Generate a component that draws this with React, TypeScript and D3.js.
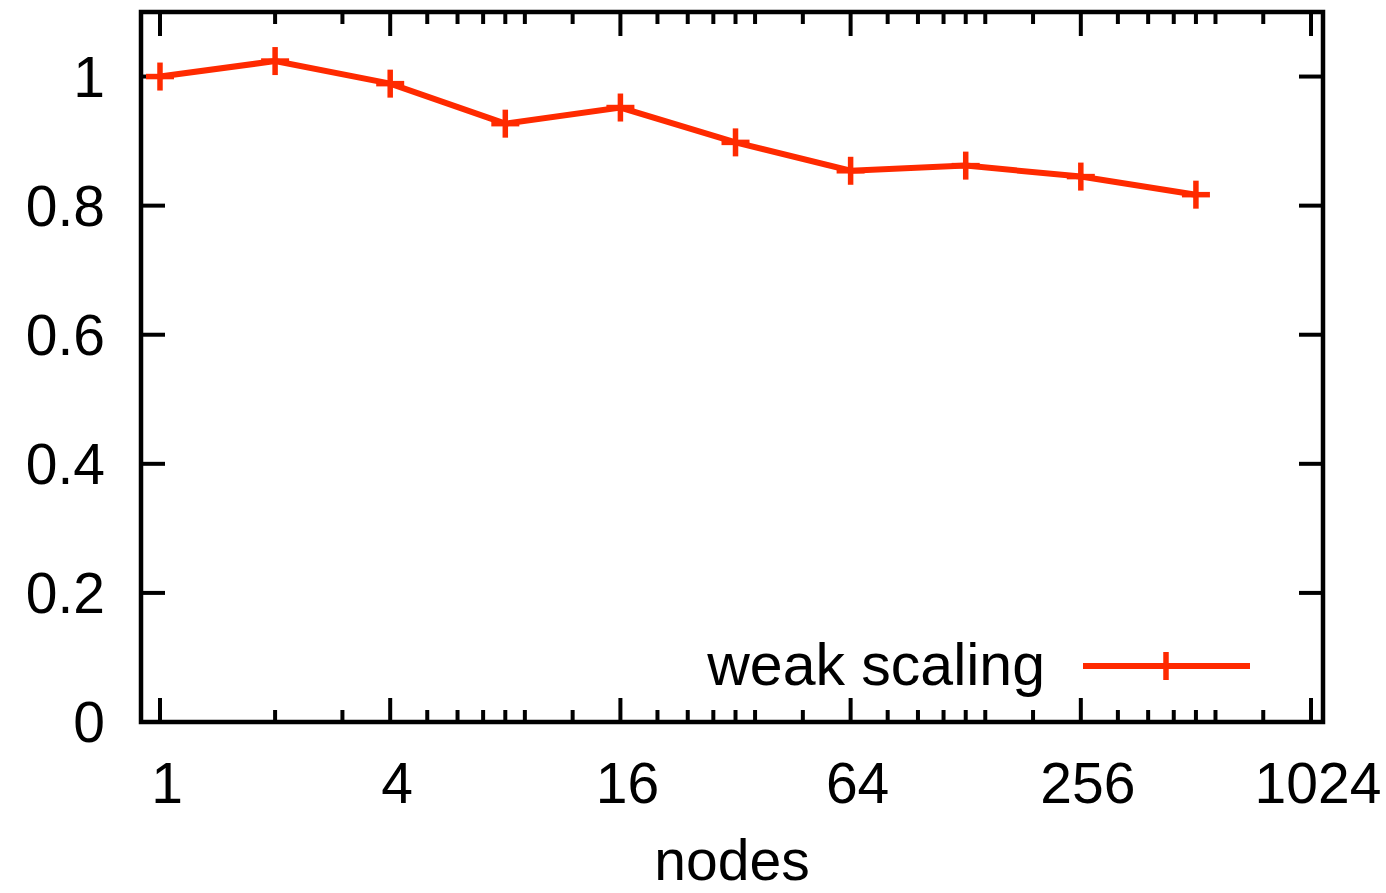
import React from "react";
import * as d3 from "d3";

const nodes = [1, 2, 4, 8, 16, 32, 64, 128, 256, 512];
const efficiency = [1.0, 1.024, 0.989, 0.927, 0.952, 0.898, 0.854, 0.862, 0.845, 0.817];
const xMajorTicks = [1, 4, 16, 64, 256, 1024];
const xMinorTicks = [2, 3, 5, 6, 7, 8, 9, 12, 20, 24, 28, 32, 36, 48, 80, 96, 112, 128, 144, 192, 320, 384, 448, 512, 576, 768];
const yTicks = [0, 0.2, 0.4, 0.6, 0.8, 1];
const yTickLabels = ["0", "0.2", "0.4", "0.6", "0.8", "1"];
const seriesName = "weak scaling";
const xLabel = "nodes";

const W = 1386;
const H = 893;
const left = 141;
const right = 1323;
const top = 12;
const bottom = 722;
const font = "'Liberation Sans', Arial, Helvetica, sans-serif";
const red = "#ff2a00";

export default function App() {
  const x = d3
    .scaleLog()
    .base(2)
    .domain([Math.pow(2, -0.165), Math.pow(2, 10.104)])
    .range([left, right]);
  const y = d3.scaleLinear().domain([0, 1.1]).range([bottom, top]);

  const line = d3
    .line<number>()
    .x((_, i) => x(nodes[i]))
    .y((d) => y(d));

  const majorLen = 24;
  const minorLen = 12;
  const plus = 14;

  return (
    <svg
      width={W}
      height={H}
      style={{ position: "absolute", left: 0, top: 0, background: "#fff" }}
      fontFamily={font}
    >
      {yTicks.map((t, i) => (
        <g key={"y" + i}>
          {i > 0 && (
            <>
              <line x1={left} x2={left + majorLen} y1={y(t)} y2={y(t)} stroke="#000" strokeWidth={4} />
              <line x1={right - majorLen} x2={right} y1={y(t)} y2={y(t)} stroke="#000" strokeWidth={4} />
            </>
          )}
          <text x={105} y={y(t) + 20} textAnchor="end" fontSize={57} fill="#000">
            {yTickLabels[i]}
          </text>
        </g>
      ))}
      {xMajorTicks.map((t, i) => (
        <g key={"xm" + i}>
          <line x1={x(t)} x2={x(t)} y1={bottom} y2={bottom - majorLen} stroke="#000" strokeWidth={4} />
          <line x1={x(t)} x2={x(t)} y1={top} y2={top + majorLen} stroke="#000" strokeWidth={4} />
          <text x={x(t) + 7} y={803} textAnchor="middle" fontSize={57} fill="#000">
            {String(t)}
          </text>
        </g>
      ))}
      {xMinorTicks.map((t, i) => (
        <g key={"xn" + i}>
          <line x1={x(t)} x2={x(t)} y1={bottom} y2={bottom - minorLen} stroke="#000" strokeWidth={4} />
          <line x1={x(t)} x2={x(t)} y1={top} y2={top + minorLen} stroke="#000" strokeWidth={4} />
        </g>
      ))}
      <rect x={left} y={top} width={right - left} height={bottom - top} fill="none" stroke="#000" strokeWidth={4.5} />
      <path d={line(efficiency) || ""} fill="none" stroke={red} strokeWidth={6} strokeLinejoin="miter" />
      {efficiency.map((v, i) => (
        <g key={"p" + i} stroke={red} strokeWidth={5.5}>
          <line x1={x(nodes[i]) - plus} x2={x(nodes[i]) + plus} y1={y(v)} y2={y(v)} />
          <line x1={x(nodes[i])} x2={x(nodes[i])} y1={y(v) - plus} y2={y(v) + plus} />
        </g>
      ))}
      <text x={1045} y={685} textAnchor="end" fontSize={59} fill="#000">
        {seriesName}
      </text>
      <line x1={1083} x2={1250} y1={666} y2={666} stroke={red} strokeWidth={6} />
      <line x1={1166 - plus} x2={1166 + plus} y1={666} y2={666} stroke={red} strokeWidth={5.5} />
      <line x1={1166} x2={1166} y1={666 - plus} y2={666 + plus} stroke={red} strokeWidth={5.5} />
      <text x={732} y={880} textAnchor="middle" fontSize={57} fill="#000">
        {xLabel}
      </text>
    </svg>
  );
}
